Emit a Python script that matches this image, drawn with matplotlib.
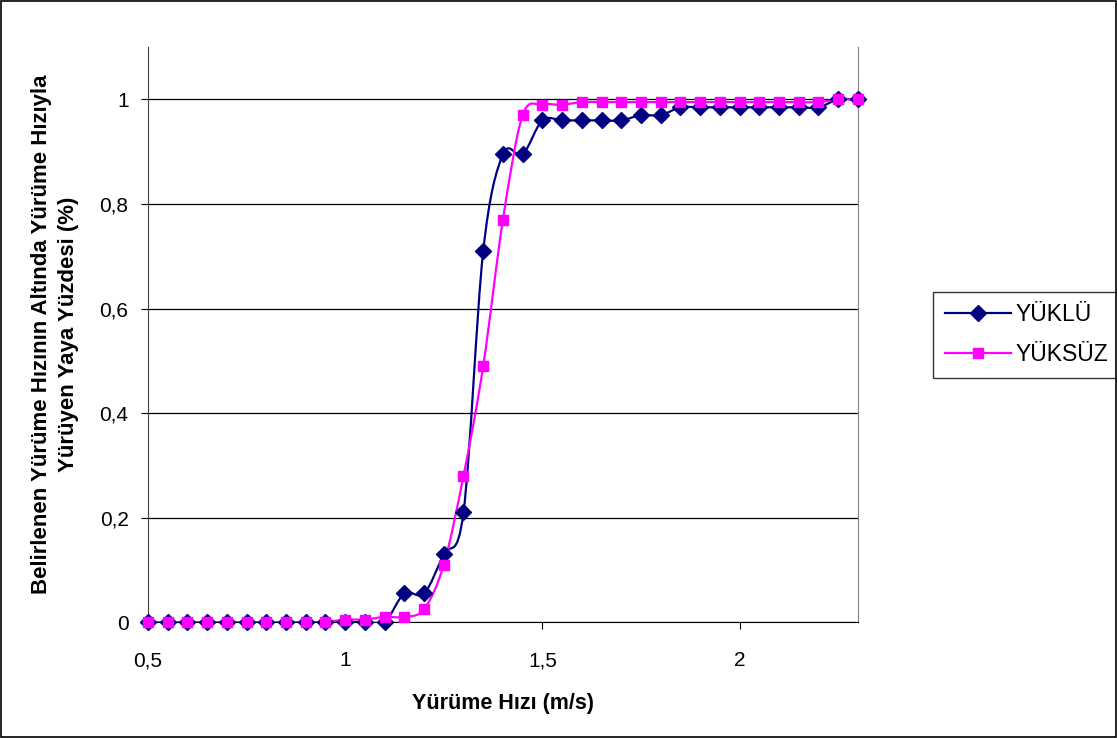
import numpy as np
import matplotlib.pyplot as plt
from matplotlib.path import Path
from matplotlib.patches import PathPatch, Rectangle
from matplotlib.ticker import FuncFormatter
from matplotlib.lines import Line2D

plt.rcParams['font.family'] = ['Liberation Sans', 'DejaVu Sans']

# Yürüme hızları (m/s)
hiz = [0.50, 0.55, 0.60, 0.65, 0.70, 0.75, 0.80, 0.85, 0.90, 0.95,
       1.00, 1.05, 1.10, 1.15, 1.20, 1.25, 1.30, 1.35, 1.40, 1.45,
       1.50, 1.55, 1.60, 1.65, 1.70, 1.75, 1.80, 1.85, 1.90, 1.95,
       2.00, 2.05, 2.10, 2.15, 2.20, 2.25, 2.30]

# Yüklü yayalar için kümülatif oran
yuklu = [0, 0, 0, 0, 0, 0, 0, 0, 0, 0,
         0, 0, 0, 0.055, 0.055, 0.13, 0.21, 0.71, 0.895, 0.895,
         0.96, 0.96, 0.96, 0.96, 0.96, 0.97, 0.97, 0.985, 0.985, 0.985,
         0.985, 0.985, 0.985, 0.985, 0.985, 1.0, 1.0]

# Yüksüz yayalar için kümülatif oran
yuksuz = [0, 0, 0, 0, 0, 0, 0, 0, 0, 0,
          0.005, 0.005, 0.01, 0.01, 0.025, 0.11, 0.28, 0.49, 0.77, 0.97,
          0.99, 0.99, 0.995, 0.995, 0.995, 0.995, 0.995, 0.995, 0.995, 0.995,
          0.995, 0.995, 0.995, 0.995, 0.995, 1.0, 1.0]


def yumusak_egri(x, y):
    # Excel'deki gibi yumuşatılmış çizgi: Catmull-Rom -> kübik Bezier
    p = np.column_stack([x, y])
    verts = [p[0]]
    codes = [Path.MOVETO]
    n = len(p)
    for i in range(n - 1):
        p0 = p[i - 1] if i > 0 else p[i]
        p1 = p[i]
        p2 = p[i + 1]
        p3 = p[i + 2] if i + 2 < n else p[i + 1]
        c1 = p1 + (p2 - p0) / 6.0
        c2 = p2 - (p3 - p1) / 6.0
        verts += [c1, c2, p2]
        codes += [Path.CURVE4] * 3
    return Path(verts, codes)


fig = plt.figure(figsize=(11.17, 7.38), dpi=100)
ax = fig.add_axes([0.1325, 0.157, 0.6355, 0.779])

seriler = [(yuklu, '#000080', 'D', 8, 'YÜKLÜ'),
           (yuksuz, '#FF00FF', 's', 7.5, 'YÜKSÜZ')]
for y, renk, isaret, boy, ad in seriler:
    ax.add_patch(PathPatch(yumusak_egri(hiz, y), facecolor='none',
                           edgecolor=renk, lw=1.6, zorder=3))
    ax.plot(hiz, y, linestyle='none', marker=isaret, ms=boy,
            color=renk, zorder=4, clip_on=False)

ax.set_xlim(0.5, 2.3)
ax.set_ylim(0, 1.1)
ax.set_xticks([0.5, 1, 1.5, 2])
ax.set_yticks([0, 0.2, 0.4, 0.6, 0.8, 1])
virgul = FuncFormatter(lambda v, pos: ('%g' % v).replace('.', ','))
ax.xaxis.set_major_formatter(virgul)
ax.yaxis.set_major_formatter(virgul)
ax.tick_params(axis='both', direction='out', length=5, width=0.8,
               labelsize=15, colors='black')
ax.tick_params(axis='x', pad=16)
ax.tick_params(axis='y', pad=9)

ax.grid(axis='y', color='black', lw=0.9)
ax.set_axisbelow(True)
ax.spines['top'].set_visible(False)
ax.spines['right'].set_color('#808080')
ax.spines['left'].set_color('#404040')
ax.spines['bottom'].set_color('black')

ax.set_xlabel('Yürüme Hızı (m/s)', fontsize=15.5, fontweight='bold',
              labelpad=16)
ax.set_ylabel('Belirlenen Yürüme Hızının Altında Yürüme Hızıyla\n'
              'Yürüyen Yaya Yüzdesi (%)', fontsize=16, fontweight='bold',
              labelpad=15, linespacing=1.35)

tutamac = [Line2D([], [], color=r, marker=m, ms=b, lw=1.6)
           for _, r, m, b, _ in seriler]
ax.legend(tutamac, [s[4] for s in seriler], loc='center left',
          bbox_to_anchor=(1.106, 0.5), fontsize=16.5, frameon=True,
          fancybox=False, edgecolor='black', handlelength=2.9,
          borderpad=0.5, labelspacing=0.75, handletextpad=0.2,
          borderaxespad=0)

# Dış çerçeve
fig.add_artist(Rectangle((0.001, 0.001), 0.998, 0.997,
                         transform=fig.transFigure, fill=False,
                         edgecolor='black', lw=1.2))

fig.savefig('out.png', dpi=100)
